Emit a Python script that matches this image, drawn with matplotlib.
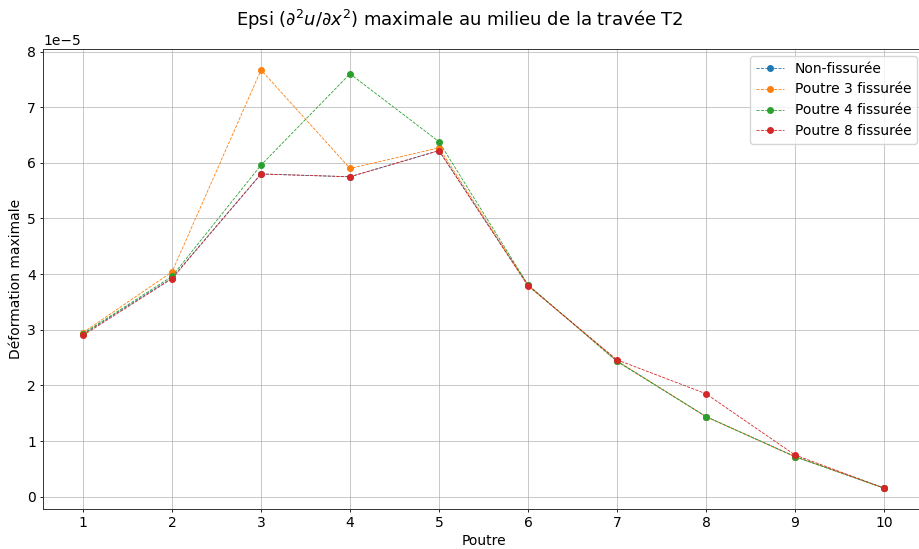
import matplotlib.pyplot as plt

poutres = [1, 2, 3, 4, 5, 6, 7, 8, 9, 10]

non_fissuree = [2.92e-5, 3.93e-5, 5.80e-5, 5.75e-5, 6.22e-5, 3.80e-5, 2.44e-5, 1.44e-5, 0.72e-5, 0.155e-5]
poutre3 = [2.95e-5, 4.04e-5, 7.67e-5, 5.90e-5, 6.27e-5, 3.80e-5, 2.44e-5, 1.44e-5, 0.72e-5, 0.155e-5]
poutre4 = [2.93e-5, 3.96e-5, 5.96e-5, 7.60e-5, 6.38e-5, 3.81e-5, 2.43e-5, 1.44e-5, 0.72e-5, 0.155e-5]
poutre8 = [2.90e-5, 3.92e-5, 5.80e-5, 5.75e-5, 6.22e-5, 3.79e-5, 2.46e-5, 1.85e-5, 0.75e-5, 0.155e-5]

series = [
    ("Non-fissurée", non_fissuree),
    ("Poutre 3 fissurée", poutre3),
    ("Poutre 4 fissurée", poutre4),
    ("Poutre 8 fissurée", poutre8),
]

plt.rcParams['font.size'] = 10
plt.rcParams['axes.linewidth'] = 0.7
plt.rcParams['axes.edgecolor'] = '#333333'

fig = plt.figure(figsize=(9.19, 5.49), dpi=100)
# the original image is cropped on the right, so the axes run past the figure edge
ax = fig.add_axes([0.0468, 0.0729, 0.9586, 0.8378])

for name, vals in series:
    ax.plot(poutres, vals, linestyle='--', linewidth=0.6, marker='o', markersize=4, label=name)

ax.set_xticks(poutres)
ax.tick_params(labelsize=10, length=2.5, width=0.6, pad=2.5)
ax.grid(True, color='#b0b0b0', alpha=0.7, linewidth=0.7)
ax.set_xlabel("Poutre", labelpad=3)
ax.set_ylabel("Déformation maximale", labelpad=3)
fig.suptitle(r"Epsi ($\partial^2 u/\partial x^2$) maximale au milieu de la travée T2", fontsize=13, y=0.985)
ax.legend(loc='upper right')

fig.savefig("out.png", dpi=100)
